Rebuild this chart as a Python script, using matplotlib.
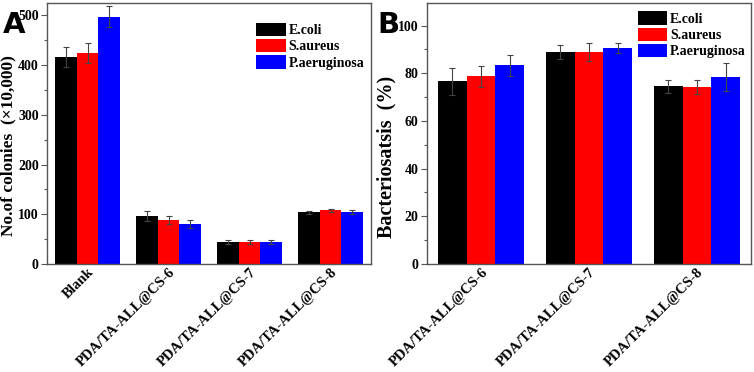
import numpy as np
import matplotlib
matplotlib.use("Agg")
import matplotlib.pyplot as plt
import matplotlib.transforms as mtransforms
from matplotlib.ticker import MultipleLocator

plt.rcParams['font.family'] = ['Liberation Serif', 'DejaVu Serif']
plt.rcParams['font.weight'] = 'bold'

series = ["E.coli", "S.aureus", "P.aeruginosa"]
colors = ["#000000", "#ff0000", "#0000ff"]

# panel A: colonies
groups_a = ["Blank", "PDA/TA-ALL@CS-6", "PDA/TA-ALL@CS-7", "PDA/TA-ALL@CS-8"]
ecoli_a = [416, 97, 44, 104]
saureus_a = [424, 89, 45, 108]
paer_a = [497, 81, 45, 105]
ecoli_a_err = [20, 10, 4, 3]
saureus_a_err = [20, 8, 4, 3]
paer_a_err = [21, 8, 4, 4]

# panel B: bacteriostasis
groups_b = ["PDA/TA-ALL@CS-6", "PDA/TA-ALL@CS-7", "PDA/TA-ALL@CS-8"]
ecoli_b = [76.7, 89.0, 74.6]
saureus_b = [78.7, 89.0, 74.2]
paer_b = [83.3, 90.6, 78.4]
ecoli_b_err = [5.6, 3.0, 2.8]
saureus_b_err = [4.5, 3.8, 3.0]
paer_b_err = [4.5, 2.2, 5.8]

fig = plt.figure(figsize=(7.54, 3.72), dpi=100)
W, H = 754, 372
axA = fig.add_axes([47 / W, 108 / H, 324 / W, 261 / H])
axB = fig.add_axes([427 / W, 108 / H, 324 / W, 261 / H])

spine_col = "#555555"
width = 0.8 / 3
shift = mtransforms.ScaledTranslation(7 / 72, 0, fig.dpi_scale_trans)


def draw(ax, groups, vals, errs, ylim, major, minor, ylabel, ylsize, ylpos, leg_xy):
    x = np.arange(len(groups))
    for i, (v, e) in enumerate(zip(vals, errs)):
        ax.bar(x + (i - 1) * width, v, width, color=colors[i], label=series[i],
               yerr=e, error_kw=dict(ecolor="#444444", elinewidth=0.8, capsize=2.5, capthick=0.8))
    ax.set_xlim(-0.5, len(groups) - 0.5)
    ax.set_ylim(*ylim)
    ax.yaxis.set_major_locator(MultipleLocator(major))
    ax.yaxis.set_minor_locator(MultipleLocator(minor))
    ax.set_xticks(x)
    ax.set_xticklabels(groups, rotation=45, ha="right", rotation_mode="anchor", fontsize=10.5, fontweight="bold")
    for lab in ax.get_xticklabels():
        lab.set_transform(lab.get_transform() + shift)
    ax.tick_params(axis="x", length=0, pad=1)
    ax.tick_params(axis="y", which="major", direction="out", length=4, width=0.8, color=spine_col, labelsize=10, pad=2)
    ax.tick_params(axis="y", which="minor", direction="out", length=2, width=0.8, color=spine_col)
    for lab in ax.get_yticklabels():
        lab.set_fontweight("bold")
    for s in ax.spines.values():
        s.set_color(spine_col)
        s.set_linewidth(1.0)
    ax.set_ylabel(ylabel, fontsize=ylsize, fontweight="bold")
    ax.yaxis.set_label_coords(ylpos[0], ylpos[1])
    ax.legend(loc="upper left", bbox_to_anchor=leg_xy, frameon=False,
              handlelength=2.15, handleheight=1.08, labelspacing=0.15, handletextpad=0.2,
              borderpad=0, borderaxespad=0, prop=dict(weight="bold", size=10))


draw(axA, groups_a, [ecoli_a, saureus_a, paer_a], [ecoli_a_err, saureus_a_err, paer_a_err],
     (0, 525), 100, 50, "No.of colonies  (×10,000)", 12.5, (-0.093, 0.455), (0.645, 0.925))
draw(axB, groups_b, [ecoli_b, saureus_b, paer_b], [ecoli_b_err, saureus_b_err, paer_b_err],
     (0, 109.5), 20, 10, "Bacteriosatsis  (%)", 14.5, (-0.093, 0.41), (0.65, 0.968))

fig.text(3 / W, 1 - 33 / H, "A", fontsize=21, fontweight="bold", family="DejaVu Sans")
fig.text(377 / W, 1 - 33 / H, "B", fontsize=21, fontweight="bold", family="DejaVu Sans")

fig.savefig("out.png", dpi=100)
